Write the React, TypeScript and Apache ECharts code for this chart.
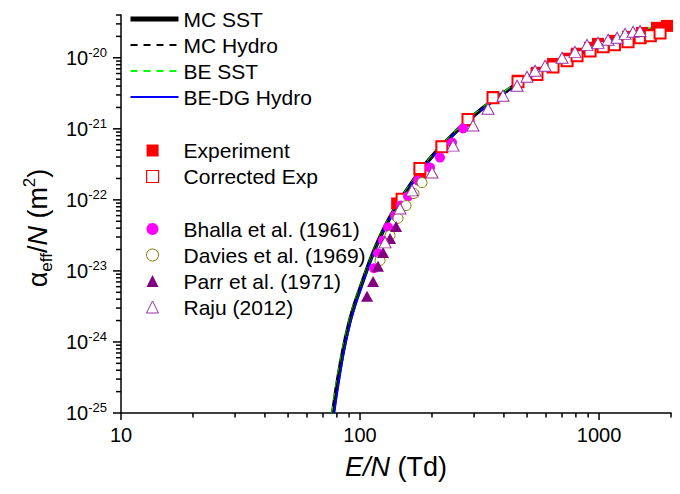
import React, { useEffect, useRef } from 'react';
import * as echarts from 'echarts';

const FONT = "'Liberation Sans', Arial, Helvetica, sans-serif";

// ---- Model curves (E/N in Td, alpha_eff/N in m^2) ----
const mcSstE = [77, 80, 85, 90, 95, 100, 107, 114, 121, 130, 138, 147, 160, 180, 200, 250, 300, 350, 450, 550, 700, 900, 1000, 1400, 1800, 2000];
const mcSstA = [1.0e-25, 2.4e-25, 7.6e-25, 1.8e-24, 3.4e-24, 5.6e-24, 1.07e-23, 1.86e-23, 2.95e-23, 4.8e-23, 6.9e-23, 9.8e-23, 1.51e-22, 2.63e-22, 4.1e-22, 8.9e-22, 1.55e-21, 2.34e-21, 4.2e-21, 6.2e-21, 9.1e-21, 1.29e-20, 1.48e-20, 2.14e-20, 2.69e-20, 2.95e-20];

const mcHydroE = [77, 80, 85, 90, 95, 100, 107, 114, 121, 130, 138, 147, 160, 180, 200, 250, 300, 350, 450, 550, 700, 900, 1000, 1400, 1800, 2000];
const mcHydroA = [1.0e-25, 2.5e-25, 7.8e-25, 1.85e-24, 3.5e-24, 5.7e-24, 1.08e-23, 1.88e-23, 2.97e-23, 4.8e-23, 6.9e-23, 9.8e-23, 1.5e-22, 2.6e-22, 4.05e-22, 8.8e-22, 1.53e-21, 2.32e-21, 4.15e-21, 6.15e-21, 9.0e-21, 1.28e-20, 1.47e-20, 2.12e-20, 2.68e-20, 2.93e-20];

const beSstE = [76.5, 80, 85, 90, 95, 100, 107, 114, 121, 130, 138, 147, 160, 180, 200, 250, 300, 350, 450, 550, 700, 900, 1000, 1400, 1800, 2000];
const beSstA = [1.0e-25, 2.7e-25, 8.2e-25, 1.9e-24, 3.6e-24, 5.8e-24, 1.1e-23, 1.9e-23, 3.0e-23, 4.9e-23, 7.0e-23, 1.0e-22, 1.54e-22, 2.67e-22, 4.15e-22, 9.0e-22, 1.57e-21, 2.38e-21, 4.3e-21, 6.35e-21, 9.3e-21, 1.33e-20, 1.53e-20, 2.25e-20, 2.9e-20, 3.25e-20];

const beDgE = [78, 80, 85, 90, 95, 100, 107, 114, 121, 130, 138, 147, 160, 180, 200, 250, 300, 350, 450, 550, 700, 900, 1000, 1400, 1800, 2000];
const beDgA = [1.0e-25, 1.8e-25, 6.4e-25, 1.6e-24, 3.1e-24, 5.2e-24, 1.0e-23, 1.78e-23, 2.85e-23, 4.65e-23, 6.75e-23, 9.6e-23, 1.48e-22, 2.58e-22, 4.0e-22, 8.7e-22, 1.52e-21, 2.3e-21, 4.1e-21, 6.1e-21, 8.95e-21, 1.27e-20, 1.46e-20, 2.1e-20, 2.64e-20, 2.88e-20];

// ---- Measurements ----
const expE = [143, 178, 220, 283, 360, 458, 550, 642, 735, 809, 917, 990, 1145, 1322, 1513, 1748, 1925];
const expA = [8.9e-23, 2.35e-22, 5.6e-22, 1.3e-21, 2.8e-21, 4.75e-21, 6.15e-21, 8.2e-21, 9.7e-21, 1.14e-20, 1.38e-20, 1.57e-20, 1.73e-20, 1.97e-20, 2.24e-20, 2.64e-20, 2.81e-20];

const corE = [150, 178, 220, 283, 360, 458, 550, 642, 735, 809, 917, 1040, 1160, 1322, 1487, 1640, 1800];
const corA = [1.02e-22, 2.76e-22, 5.6e-22, 1.35e-21, 2.74e-21, 4.6e-21, 5.8e-21, 7.4e-21, 9.1e-21, 1.07e-20, 1.25e-20, 1.43e-20, 1.52e-20, 1.68e-20, 1.91e-20, 2.04e-20, 2.24e-20];

const bhallaE = [114.4, 118.9, 124.8, 131, 140.1, 148.4, 158.8, 174.8, 196.3, 216.1, 242.6, 269.8];
const bhallaA = [1.09e-23, 1.77e-23, 2.69e-23, 4.1e-23, 6.0e-23, 8.3e-23, 1.12e-22, 1.87e-22, 2.85e-22, 3.94e-22, 6.4e-22, 1.01e-21];

const daviesE = [121.3, 133.5, 144.2, 155.8, 168.2, 181.7];
const daviesA = [1.41e-23, 3.16e-23, 5.5e-23, 8.3e-23, 1.23e-22, 1.75e-22];

const parrE = [107, 113.4, 118.9, 124.8, 133.5, 141.5];
const parrA = [4.4e-24, 7.1e-24, 1.16e-23, 1.82e-23, 2.87e-23, 4.23e-23];

const rajuE = [127.2, 147, 165, 200.1, 245, 297, 343, 396.5, 454, 499.5, 539.7, 594.5, 700, 793, 891, 990, 1091, 1189, 1285, 1388, 1484];
const rajuA = [2.52e-23, 7.57e-23, 1.36e-22, 2.43e-22, 5.8e-22, 1.11e-21, 1.92e-21, 2.93e-21, 4.04e-21, 5.41e-21, 6.57e-21, 7.72e-21, 1.0e-20, 1.21e-20, 1.52e-20, 1.62e-20, 1.79e-20, 1.91e-20, 2.17e-20, 2.32e-20, 2.38e-20];

// ---- Axes ----
const xMin = 10;
const xMax = 2000;
const yMin = 1e-25;
const yMax = 4e-20;
const xMajorTicks = [10, 100, 1000];
const xMinorTicks = [20, 30, 40, 50, 60, 70, 80, 90, 200, 300, 400, 500, 600, 700, 800, 900, 2000];
const yMajorTicks = [1e-25, 1e-24, 1e-23, 1e-22, 1e-21, 1e-20];
const yMinorMantissas = [2, 3, 4, 5, 6, 7, 8, 9];
const yMinorDecades = [-25, -24, -23, -22, -21];
const yMinorTop = [2e-20, 3e-20, 4e-20];

const lg = (v: number) => Math.log10(v);
const pts = (xs: number[], ys: number[]) => xs.map((x, i) => [lg(x), lg(ys[i])]);

const yMinor: number[] = [];
yMinorDecades.forEach((d) => yMinorMantissas.forEach((m) => yMinor.push(m * Math.pow(10, d))));
yMinorTop.forEach((v) => yMinor.push(v));

const tickData: number[][] = [
  ...xMajorTicks.map((v) => [lg(v), lg(yMin), 0]),
  ...xMinorTicks.map((v) => [lg(v), lg(yMin), 1]),
  ...yMajorTicks.map((v) => [lg(xMin), lg(v), 2]),
  ...yMinor.map((v) => [lg(xMin), lg(v), 3]),
];

const isInt = (v: number) => Math.abs(v - Math.round(v)) < 1e-9;

const txt = { fontFamily: FONT, color: '#000' };
const hiddenSymbol = { opacity: 0, color: 'rgba(0,0,0,0)', borderWidth: 0 };

export default function App() {
  const ref = useRef<HTMLDivElement>(null);
  useEffect(() => {
    const chart = echarts.init(ref.current!, null, { renderer: 'svg' });
    const legendText = {
      ...txt,
      fontSize: 21,
      lineHeight: 21,
      rich: {
        g: { width: 20, fontSize: 21, lineHeight: 21 },
        t: { ...txt, fontSize: 21, lineHeight: 21 },
      },
    };
    const option: any = {
      animation: false,
      backgroundColor: '#fff',
      grid: { left: 121, right: 9, top: 15, bottom: 81, containLabel: false, outerBoundsMode: 'none' },
      xAxis: {
        type: 'value',
        min: lg(xMin),
        max: lg(xMax),
        interval: 1,
        axisLine: { show: true, onZero: false, lineStyle: { color: '#000', width: 1.5 } },
        axisTick: { show: false },
        splitLine: { show: false },
        axisLabel: {
          ...txt,
          fontSize: 20,
          margin: 12,
          formatter: (v: number) => (isInt(v) ? String(Math.round(Math.pow(10, v))) : ''),
        },
        name: '{i|E/N}{a| (Td)}',
        nameLocation: 'middle',
        nameGap: 39,
        nameTextStyle: {
          rich: {
            i: { ...txt, fontSize: 27, fontStyle: 'italic', lineHeight: 30 },
            a: { ...txt, fontSize: 27, lineHeight: 30 },
          },
        },
      },
      yAxis: {
        type: 'value',
        min: lg(yMin),
        max: lg(yMax),
        interval: 1,
        axisLine: { show: true, onZero: false, lineStyle: { color: '#000', width: 1.5 } },
        axisTick: { show: false },
        splitLine: { show: false },
        axisLabel: {
          margin: 14,
          formatter: (v: number) => (isInt(v) ? `{b|10}{s|${Math.round(v)}}` : ''),
          rich: {
            b: { ...txt, fontSize: 20, lineHeight: 24 },
            s: { ...txt, fontSize: 13, lineHeight: 14, verticalAlign: 'top' },
          },
        },
        name: '{a|α}{s|eff}{a|/}{n|N}{a| (m}{p|2}{a|)}',
        nameLocation: 'middle',
        nameGap: 66,
        nameTextStyle: {
          padding: [0, 28, 0, 0],
          rich: {
            a: { ...txt, fontSize: 27, lineHeight: 34 },
            n: { ...txt, fontSize: 27, fontStyle: 'italic', lineHeight: 34 },
            s: { ...txt, fontSize: 17, lineHeight: 18, verticalAlign: 'bottom' },
            p: { ...txt, fontSize: 17, lineHeight: 22, verticalAlign: 'top' },
          },
        },
      },
      legend: [
        {
          orient: 'vertical',
          left: 128,
          top: 8.5,
          padding: 0,
          itemGap: 5,
          itemWidth: 48,
          itemHeight: 14,
          textStyle: { ...txt, fontSize: 21, lineHeight: 21 },
          selectedMode: false,
          data: [
            { name: 'MC SST', itemStyle: hiddenSymbol, lineStyle: { color: '#000', width: 5, type: 'solid' } },
            { name: 'MC Hydro', itemStyle: hiddenSymbol, lineStyle: { color: '#000', width: 2, type: [7, 6] } },
            { name: 'BE SST', itemStyle: hiddenSymbol, lineStyle: { color: '#00ff00', width: 2, type: [7, 6] } },
            { name: 'BE-DG Hydro', itemStyle: hiddenSymbol, lineStyle: { color: '#0000ff', width: 2, type: 'solid' } },
          ],
        },
        {
          orient: 'vertical',
          left: 146,
          top: 140,
          padding: 0,
          itemGap: 5,
          itemWidth: 12,
          itemHeight: 12,
          selectedMode: false,
          formatter: (n: string) => `{g| }{t|${n}}`,
          textStyle: legendText,
          data: [
            { name: 'Experiment', icon: 'rect', itemStyle: { color: '#ff0000', borderWidth: 0 } },
            { name: 'Corrected Exp', icon: 'rect', itemStyle: { color: '#fff', borderColor: '#ff0000', borderWidth: 1.2 } },
          ],
        },
        {
          orient: 'vertical',
          left: 146,
          top: 218.5,
          padding: 0,
          itemGap: 5,
          itemWidth: 12,
          itemHeight: 12,
          selectedMode: false,
          formatter: (n: string) => `{g| }{t|${n}}`,
          textStyle: legendText,
          data: [
            { name: 'Bhalla et al. (1961)', icon: 'circle', itemStyle: { color: '#ff00ff', borderWidth: 0 } },
            { name: 'Davies et al. (1969)', icon: 'circle', itemStyle: { color: '#fff', borderColor: '#808000', borderWidth: 1 } },
            { name: 'Parr et al. (1971)', icon: 'triangle', itemStyle: { color: '#800080', borderWidth: 0 } },
            { name: 'Raju (2012)', icon: 'triangle', itemStyle: { color: '#fff', borderColor: '#9b30a6', borderWidth: 1 } },
          ],
        },
      ],
      series: [
        {
          type: 'line', name: 'MC SST', data: pts(mcSstE, mcSstA), symbol: 'none', smooth: 0.2,
          lineStyle: { color: '#000', width: 4 }, itemStyle: { color: '#000' }, z: 2, silent: true,
        },
        {
          type: 'line', name: 'BE-DG Hydro', data: pts(beDgE, beDgA), symbol: 'none', smooth: 0.2,
          lineStyle: { color: '#0000ff', width: 2 }, itemStyle: { color: '#0000ff' }, z: 3, silent: true,
        },
        {
          type: 'line', name: 'BE SST', data: pts(beSstE, beSstA), symbol: 'none', smooth: 0.2,
          lineStyle: { color: '#00ff00', width: 2, type: [7, 6] }, itemStyle: { color: '#00ff00' }, z: 4, silent: true,
        },
        {
          type: 'line', name: 'MC Hydro', data: pts(mcHydroE, mcHydroA), symbol: 'none', smooth: 0.2,
          lineStyle: { color: '#000', width: 1.5, type: [7, 6] }, itemStyle: { color: '#000' }, z: 5, silent: true,
        },
        {
          type: 'scatter', name: 'Experiment', data: pts(expE, expA), symbol: 'rect', symbolSize: 12,
          itemStyle: { color: '#ff0000', opacity: 1 }, z: 6, silent: true,
        },
        {
          type: 'scatter', name: 'Corrected Exp', data: pts(corE, corA), symbol: 'rect', symbolSize: 11,
          itemStyle: { color: '#fff', borderColor: '#ff0000', borderWidth: 2, opacity: 1 }, z: 7, silent: true,
        },
        {
          type: 'scatter', name: 'Bhalla et al. (1961)', data: pts(bhallaE, bhallaA), symbol: 'circle', symbolSize: 10,
          itemStyle: { color: '#ff00ff', opacity: 1 }, z: 8, silent: true,
        },
        {
          type: 'scatter', name: 'Davies et al. (1969)', data: pts(daviesE, daviesA), symbol: 'circle', symbolSize: 10,
          itemStyle: { color: '#fff', borderColor: '#808000', borderWidth: 1, opacity: 1 }, z: 9, silent: true,
        },
        {
          type: 'scatter', name: 'Parr et al. (1971)', data: pts(parrE, parrA), symbol: 'triangle', symbolSize: [12, 11],
          itemStyle: { color: '#800080', opacity: 1 }, z: 10, silent: true,
        },
        {
          type: 'scatter', name: 'Raju (2012)', data: pts(rajuE, rajuA), symbol: 'triangle', symbolSize: [12, 11],
          itemStyle: { color: '#fff', borderColor: '#9b30a6', borderWidth: 1, opacity: 1 }, z: 11, silent: true,
        },
        {
          type: 'custom', name: 'axis-ticks', data: tickData, clip: false, silent: true, z: 20,
          renderItem: (_p: any, api: any) => {
            const kind = api.value(2);
            const c = api.coord([api.value(0), api.value(1)]);
            if (kind < 2) {
              const len = kind === 0 ? 7 : 4.5;
              return { type: 'line', shape: { x1: c[0], y1: c[1], x2: c[0], y2: c[1] + len }, style: { stroke: '#000', lineWidth: 1.5 } };
            }
            const len = kind === 2 ? 8 : 5;
            return { type: 'line', shape: { x1: c[0] - len, y1: c[1], x2: c[0], y2: c[1] }, style: { stroke: '#000', lineWidth: 1.5 } };
          },
        },
      ],
    };
    chart.setOption(option);
    return () => chart.dispose();
  }, []);
  return <div ref={ref} style={{ position: 'fixed', left: 0, top: 0, width: 680, height: 494, background: '#fff' }} />;
}
